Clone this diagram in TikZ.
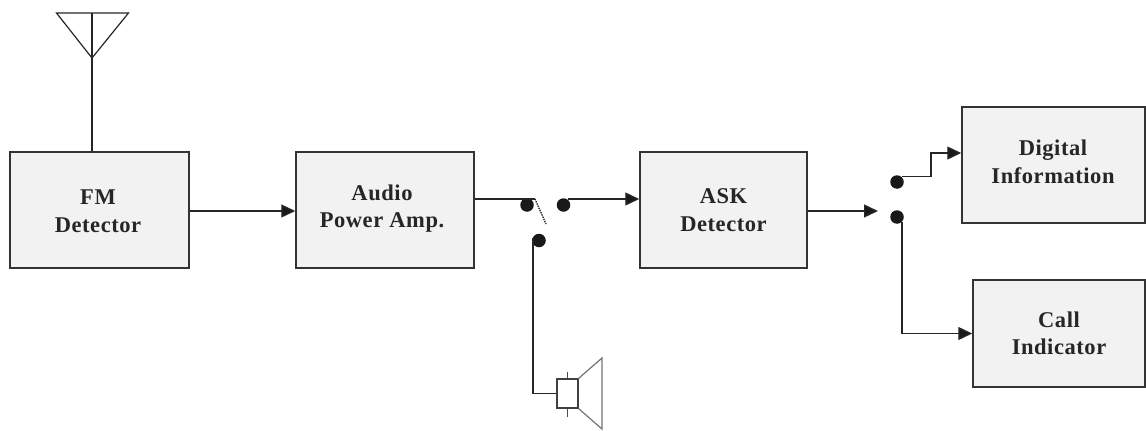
\documentclass[tikz,border=0pt]{standalone}
\usepackage{fontspec}
\setmainfont{Liberation Serif}[LetterSpace=2.5]
\usetikzlibrary{arrows.meta,calc}
\tikzset{
  x=1pt,y=-1pt,
  blocktext/.style={font=\bfseries\fontsize{22.5}{27.5}\selectfont,text=black!85,align=center,inner sep=0pt},
  blockbox/.style={draw=black!80,line width=1.5pt,fill=black!5,inner sep=0pt},
  dot/.style={circle,fill=black!90,inner sep=0pt,minimum size=13.5pt},
  conn/.style={draw=black!85,line width=1.4pt},
  arr/.style={conn,-{Triangle[length=14pt,width=13pt,fill=black!90]}},
  thin part/.style={draw=black!70,line width=1.2pt}
}
\begin{document}
\begin{tikzpicture}
\useasboundingbox (0,0) rectangle (1146,431);
\node[blockbox,minimum width=179pt,minimum height=116pt] (fm) at (99.5,210) {};
\node[blocktext] (fmt) at (98,211) {FM\\Detector};
\node[blockbox,minimum width=178pt,minimum height=116pt] (amp) at (385,210) {};
\node[blocktext] (ampt) at (382,208.5) {Audio\\Power Amp.};
\node[blockbox,minimum width=167pt,minimum height=116pt] (ask) at (723.5,210) {};
\node[blocktext] (askt) at (723.5,210) {ASK\\Detector};
\node[blockbox,minimum width=183pt,minimum height=116pt] (dig) at (1053.5,165) {};
\node[blocktext] (digt) at (1053,162) {Digital\\Information};
\node[blockbox,minimum width=172pt,minimum height=107pt] (call) at (1059,333.5) {};
\node[blocktext] (callt) at (1059,333.5) {Call\\Indicator};
% switch contacts
\node[dot] (s1) at (527,205) {};
\node[dot] (s2) at (563.5,205) {};
\node[dot] (s3) at (539,240.5) {};
\node[dot] (t1) at (897,182) {};
\node[dot] (t2) at (897,217) {};
% free ends
\coordinate (blade0) at (535,199);
\coordinate (blade1) at (546,224);
\coordinate (askend) at (878,211);
\coordinate (t1h) at (902,176.5);
\coordinate (t1v) at (931,153);
\coordinate (s2h) at (568,199);
\coordinate (s3v) at (533,238);
\coordinate (t2v) at (902,222);
% antenna
\coordinate (ant) at (92,58);
\coordinate (antl) at (56.5,13);
\coordinate (antr) at (128.5,13);
\coordinate (anttop) at (92,13);
\draw[conn] (fm.north -| ant) -- (anttop);
\draw[conn,line width=1.2pt,line join=miter] (antl) -- (antr) -- (ant) -- cycle;
% connectors
\draw[arr] (fm.east |- 0,211) -- (amp.west |- 0,211);
\draw[conn] (amp.east |- blade0) -- (blade0);
\draw[conn,densely dotted] (blade0) -- (blade1);
\draw[arr] (s2h) -- (ask.west |- s2h);
\draw[arr] (ask.east |- askend) -- (askend);
\draw[arr] (t1h) -| (t1v) -- (dig.west |- t1v);
\draw[arr] (t2v) |- (call.west);
% speaker
\node[draw=black!75,line width=1.3pt,minimum width=21pt,minimum height=29pt,inner sep=0pt] (coil) at (567.5,393.5) {};
\draw[conn] (s3v) |- (coil.west);
\coordinate (c1) at (567.5,372);
\coordinate (c2) at (567.5,417);
\draw[thin part] (coil.north) -- (c1);
\draw[thin part] (coil.south) -- (c2);
\coordinate (h1) at (602,358);
\coordinate (h2) at (602,429);
\draw[thin part,draw=black!55] (coil.north east) -- (h1) -- (h2) -- (coil.south east);
\end{tikzpicture}
\end{document}
